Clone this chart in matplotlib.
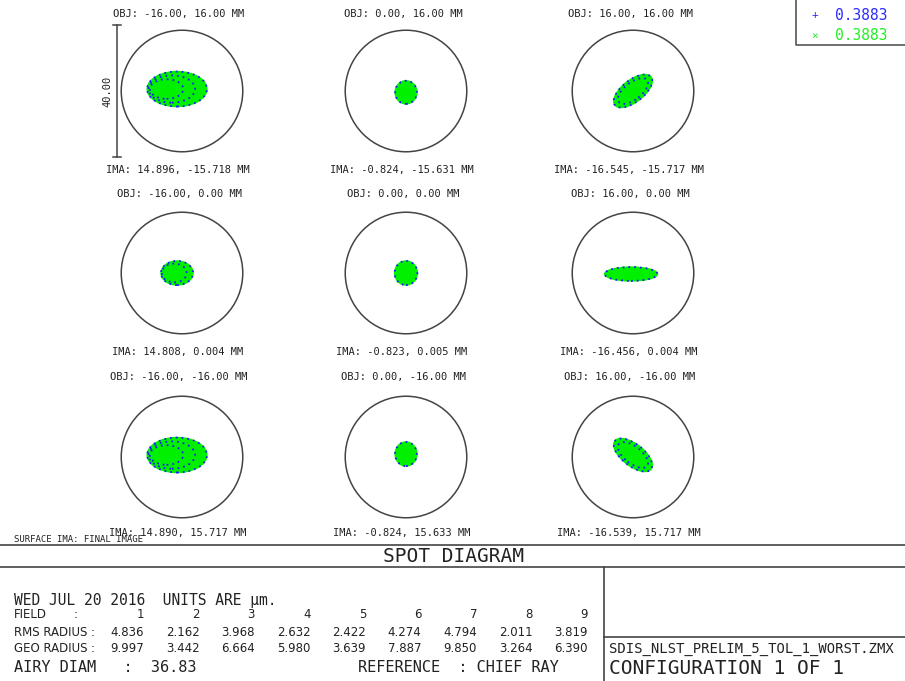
import matplotlib
matplotlib.use("Agg")
import matplotlib.pyplot as plt
from matplotlib.patches import Ellipse, Circle

# --- data ---
AIRY_DIAM = 36.83          # um
SCALE_BAR = 40.0           # um
OBJ_LABELS = ["OBJ: -16.00, 16.00 MM", "OBJ: 0.00, 16.00 MM", "OBJ: 16.00, 16.00 MM",
              "OBJ: -16.00, 0.00 MM", "OBJ: 0.00, 0.00 MM", "OBJ: 16.00, 0.00 MM",
              "OBJ: -16.00, -16.00 MM", "OBJ: 0.00, -16.00 MM", "OBJ: 16.00, -16.00 MM"]
IMA_LABELS = ["IMA: 14.896, -15.718 MM", "IMA: -0.824, -15.631 MM", "IMA: -16.545, -15.717 MM",
              "IMA: 14.808, 0.004 MM", "IMA: -0.823, 0.005 MM", "IMA: -16.456, 0.004 MM",
              "IMA: 14.890, 15.717 MM", "IMA: -0.824, 15.633 MM", "IMA: -16.539, 15.717 MM"]
# spot shape per field (um): centre offset, full width, full height, tilt
SPOT_DX = [-1.5, 0.0, 0.0, -1.5, 0.0, -0.6, -1.5, 0.0, 0.0]
SPOT_DY = [0.6, -0.4, 0.0, 0.0, 0.0, -0.3, 0.6, 0.9, 0.6]
SPOT_W = [18.1, 6.6, 13.9, 9.7, 6.9, 16.0, 18.1, 6.6, 13.9]
SPOT_H = [10.6, 7.0, 6.6, 7.3, 7.3, 4.2, 10.6, 7.3, 6.6]
SPOT_ANGLE = [0, 0, 38, 0, 0, 0, 0, 0, -38]
SPOT_RINGS = [3, 1, 2, 2, 1, 1, 3, 1, 2]

FIELDS = [1, 2, 3, 4, 5, 6, 7, 8, 9]
RMS_RADIUS = [4.836, 2.162, 3.968, 2.632, 2.422, 4.274, 4.794, 2.011, 3.819]
GEO_RADIUS = [9.997, 3.442, 6.664, 5.980, 3.639, 7.887, 9.850, 3.264, 6.390]
WAVELENGTHS = [0.3883, 0.3883]
WAVE_COLORS = ["#2a2aff", "#22ee22"]
WAVE_MARKS = ["+", "\u00d7"]

W, H = 905, 681
PX_PER_UM = 3.3
COL_X = [182, 406, 633]
ROW_Y = [91, 273, 457]
HALF = 24.0  # um shown around each spot centre

MONO = "DejaVu Sans Mono"
NARROW = ["Liberation Sans Narrow", "DejaVu Sans"]
GREEN = "#00f000"
BLUE = "#1a1aff"
INK = "#222222"

fig = plt.figure(figsize=(W / 100, H / 100), dpi=100)
fig.patch.set_facecolor("white")

# overlay axes in pixel coordinates for frame and text
ov = fig.add_axes([0, 0, 1, 1])
ov.set_xlim(0, W)
ov.set_ylim(H, 0)
ov.axis("off")

for i in range(9):
    r, c = divmod(i, 3)
    cx, cy = COL_X[c], ROW_Y[r]
    hp = HALF * PX_PER_UM
    ax = fig.add_axes([(cx - hp) / W, 1 - (cy + hp) / H, 2 * hp / W, 2 * hp / H])
    ax.set_xlim(-HALF, HALF)
    ax.set_ylim(-HALF, HALF)
    ax.axis("off")
    ax.add_patch(Circle((0, 0), AIRY_DIAM / 2, fill=False, ec="#444444", lw=1.1))
    cx0, cy0 = SPOT_DX[i], SPOT_DY[i]
    w, h, a = SPOT_W[i], SPOT_H[i], SPOT_ANGLE[i]
    ax.add_patch(Ellipse((cx0, cy0), w, h, angle=a, fc=GREEN, ec=GREEN, lw=1))
    n = SPOT_RINGS[i]
    for k in range(n):
        s = 1.0 - 0.22 * k
        shift = -(1 - s) * w / 2 * 0.8 if a == 0 else 0
        ax.add_patch(Ellipse((cx0 + shift, cy0), w * s, h * s, angle=a, fill=False,
                             ec=BLUE, lw=1.3, ls=(0, (1, 2.2))))
    if i == 0:
        xb = -(cx - 117) / PX_PER_UM
        ax.plot([xb, xb], [-SCALE_BAR / 2, SCALE_BAR / 2], color="#444444", lw=1.1)
        for yb in (-SCALE_BAR / 2, SCALE_BAR / 2):
            ax.plot([xb - 1.2, xb + 1.2], [yb, yb], color="#444444", lw=1.1)
        ax.text(xb - 1.3, 0, "%.2f" % SCALE_BAR, rotation=90, ha="right", va="center",
                family=MONO, fontsize=7.5, color=INK)

OBJ_Y = [14, 194, 377]
IMA_Y = [170, 352, 533]
for i in range(9):
    r, c = divmod(i, 3)
    ov.text(COL_X[c] - 3, OBJ_Y[r], OBJ_LABELS[i], ha="center", va="center",
            family=MONO, fontsize=7.5, color=INK)
    ov.text(COL_X[c] - 4, IMA_Y[r], IMA_LABELS[i], ha="center", va="center",
            family=MONO, fontsize=7.5, color=INK)

# legend box top right
ov.plot([796, 796, W], [0, 45, 45], color="#555555", lw=1.2)
for k, (wl, col, mk) in enumerate(zip(WAVELENGTHS, WAVE_COLORS, WAVE_MARKS)):
    y = 15 + 21 * k
    ov.text(815, y, mk, ha="center", va="center", color=col, fontsize=8, family=MONO)
    ov.text(835, y, "%.4f" % wl, ha="left", va="center", color=col, fontsize=10.5, family=MONO)

# bottom panel
ov.text(14, 540, "SURFACE IMA: FINAL IMAGE", ha="left", va="center",
        family=MONO, fontsize=6.5, color=INK)
ov.plot([0, W], [545, 545], color="#444444", lw=1.2)
ov.plot([0, W], [567, 567], color="#444444", lw=1.2)
ov.plot([604, 604], [567, H], color="#444444", lw=1.2)
ov.plot([604, W], [637, 637], color="#444444", lw=1.2)
ov.text(453, 556, "SPOT DIAGRAM", ha="center", va="center", family=MONO,
        fontsize=14, color=INK)

ov.text(14, 601, "WED JUL 20 2016  UNITS ARE \u00b5m.", ha="left", va="center",
        family=MONO, fontsize=10.5, color=INK)
rows = [("FIELD", FIELDS, "%d", 615, 76), ("RMS RADIUS", RMS_RADIUS, "%.3f", 632, 93),
        ("GEO RADIUS", GEO_RADIUS, "%.3f", 648, 93)]
for name, vals, fmt, y, xc in rows:
    ov.text(14, y, name, ha="left", va="center", family=NARROW, fontsize=8.5, color=INK)
    ov.text(xc, y, ":", ha="center", va="center", family=NARROW, fontsize=8.5, color=INK)
    for j, v in enumerate(vals):
        ov.text(144 + 55.5 * j, y, fmt % v, ha="right", va="center", family=NARROW,
                fontsize=8.5, color=INK)
ov.text(14, 667, "AIRY DIAM   :  %.2f" % AIRY_DIAM, ha="left", va="center",
        family=MONO, fontsize=11, color=INK)
ov.text(358, 667, "REFERENCE  : CHIEF RAY", ha="left", va="center",
        family=MONO, fontsize=11, color=INK)
ov.text(609, 649, "SDIS_NLST_PRELIM_5_TOL_1_WORST.ZMX", ha="left", va="center",
        family=MONO, fontsize=10, color=INK)
ov.text(609, 668, "CONFIGURATION 1 OF 1", ha="left", va="center",
        family=MONO, fontsize=14, color=INK)

fig.savefig("out.png", dpi=100, facecolor="white")
